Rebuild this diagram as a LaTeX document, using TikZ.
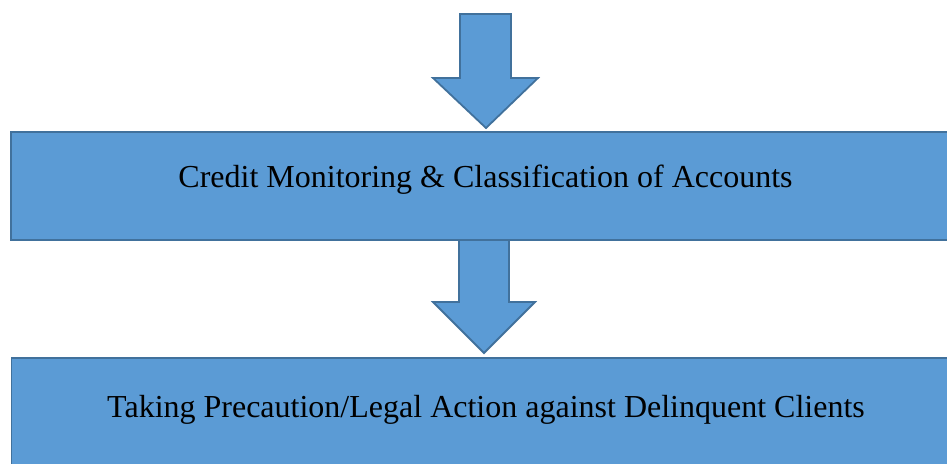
\documentclass[tikz,border=0pt]{standalone}
\usepackage{fontspec}
\setmainfont{Liberation Serif}
\usetikzlibrary{positioning,calc}
\definecolor{boxblue}{HTML}{5B9BD5}
\definecolor{edgeblue}{HTML}{41719C}
\tikzset{
  stage/.style={draw=edgeblue, fill=boxblue, line width=1.8pt, minimum width=949pt, inner sep=0pt},
  stagetext/.style={font=\fontsize{32}{38}\selectfont, inner sep=0pt},
  blockarrow/.style={draw=edgeblue, fill=boxblue, line width=1.8pt, line join=miter}
}
\begin{document}
\begin{tikzpicture}[x=1pt,y=-1pt]
\useasboundingbox (0,0) rectangle (947,463);
\clip (0,0) rectangle (947,463);
% down arrows
\draw[blockarrow] (460,14) -- (511,14) -- (511,78) -- (538,78) -- (486,128) -- (433,78) -- (460,78) -- cycle;
\draw[blockarrow] (459,240) -- (509,240) -- (509,302) -- (535,302) -- (484,353) -- (433,302) -- (459,302) -- cycle;
% stages
\node[stage, minimum height=108pt] (monitor) at (485.5,186) {};
\node[stagetext] (monitortext) at ([yshift=6pt]monitor.center) {Credit Monitoring \& Classification of Accounts};
\node[stage, minimum height=112pt] (legal) at (486,414) {};
\node[stagetext] (legaltext) at ([yshift=4pt]legal.center) {Taking Precaution/Legal Action against Delinquent Clients};
\end{tikzpicture}
\end{document}
